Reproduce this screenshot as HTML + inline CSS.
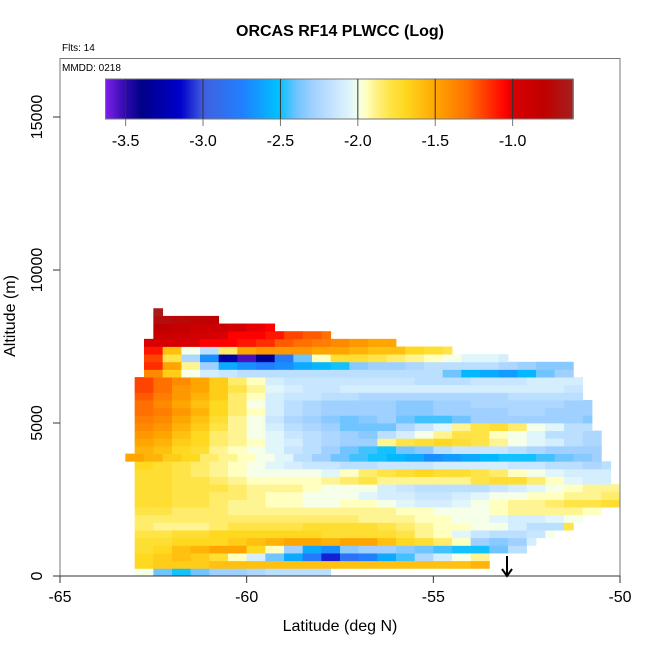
<!DOCTYPE html>
<html><head><meta charset="utf-8"><style>
body{margin:0;background:#fff}
svg text{font-family:"Liberation Sans",sans-serif}
</style></head><body>
<svg id="chart" width="650" height="650" viewBox="0 0 650 650" xmlns="http://www.w3.org/2000/svg">
<rect width="650" height="650" fill="#fff"/>
<g id="cells"></g>
<g id="cbar"></g>
<rect x="60" y="58.5" width="560" height="517.5" fill="none" stroke="#777" stroke-width="1"/>
<g id="axes"></g>
<text x="340" y="36" text-anchor="middle" font-size="16" font-weight="bold">ORCAS RF14 PLWCC (Log)</text>
<text x="62" y="51" font-size="10">Flts: 14</text>
<text x="62" y="71" font-size="10">MMDD: 0218</text>
<text x="340" y="631" text-anchor="middle" font-size="16">Latitude (deg N)</text>
<text x="0" y="0" transform="translate(15,316) rotate(-90)" text-anchor="middle" font-size="16">Altitude (m)</text>
<g stroke="#000" stroke-width="2" fill="none">
<line x1="507" y1="556" x2="507" y2="576"/><polyline points="502,569 507,576 512,569"/></g>
</svg>
<script>
const xTicks=[-65,-60,-55,-50];
const yTicks=[0,5000,10000,15000];
const cbTicks=[-3.5,-3.0,-2.5,-2.0,-1.5,-1.0];
const cbRange=[-3.63,-0.61];
const binHeight=250;
const binWidth=0.5;
const rowStart=[-63,-63,-63,-63,-63,-63,-63,-63,-63,-63,-63,-63,-63,-63,-63,-63.25,-63,-63,-63,-63,-63,-63,-63,-63,-63,-63,-62.75,-62.75,-62.75,-62.75,-62.75,-62.5,-62.5,-62.5,-62.5];
const rowEnd=[-57.75,-53.5,-53.5,-52.5,-52.25,-51.75,-51.25,-51,-50.5,-50,-50,-50,-50.25,-50.25,-50.25,-50.5,-50.5,-50.5,-50.5,-50.75,-50.75,-50.75,-50.75,-51,-51,-51,-51.25,-51.25,-53,-54.5,-56,-57.75,-59.25,-60.75,-62.25];
const rowVals=[
[-2.0,-2.4,-2.5,-2.4,-2.3,-2.3,-2.25,-2.2,-2.2,-2.2,-2.2],
[-1.7,-1.65,-1.65,-1.65,-1.6,-1.6,-1.6,-1.6,-1.6,-1.6,-1.6,-1.6,-1.6,-1.6,-1.6,-1.6,-1.6,-1.6,-1.55],
[-1.7,-1.65,-1.6,-1.65,-1.75,-1.95,-2.1,-2.4,-2.6,-2.8,-3.1,-2.85,-2.75,-2.6,-2.45,-2.25,-2.1,-2.0,-1.9],
[-1.75,-1.7,-1.6,-1.55,-1.5,-1.5,-1.7,-1.95,-2.3,-2.6,-2.7,-2.35,-2.3,-2.3,-2.35,-2.4,-2.45,-2.5,-2.5,-2.4,-2.2],
[-1.75,-1.75,-1.7,-1.7,-1.7,-1.65,-1.6,-1.55,-1.5,-1.5,-1.55,-1.5,-1.5,-1.6,-1.7,-1.75,-1.85,-1.95,-2.3,-2.35,-2.3,-2.1],
[-1.8,-1.8,-1.75,-1.75,-1.7,-1.7,-1.7,-1.7,-1.7,-1.7,-1.75,-1.75,-1.75,-1.75,-1.8,-1.9,-1.95,-2.05,-2.15,-2.2,-2.2,-2.15,-2.0],
[-1.85,-1.9,-1.9,-1.9,-1.85,-1.8,-1.8,-1.8,-1.8,-1.75,-1.75,-1.75,-1.75,-1.8,-1.85,-1.9,-1.95,-1.95,-2.0,-2.0,-2.1,-2.2,-2.2,-1.8],
[-1.85,-1.85,-1.85,-1.85,-1.85,-1.85,-1.85,-1.85,-1.85,-1.85,-1.85,-1.85,-1.9,-1.9,-1.9,-1.95,-1.95,-2.0,-2.0,-2.05,-2.1,-2.1,-2.05,-2.0],
[-1.8,-1.8,-1.85,-1.85,-1.85,-1.9,-1.9,-1.9,-1.9,-1.9,-1.9,-1.9,-1.9,-1.9,-1.95,-1.95,-2.0,-2.0,-2.0,-1.95,-1.9,-1.9,-1.9,-1.9,-1.95],
[-1.75,-1.75,-1.8,-1.8,-1.85,-1.9,-1.9,-1.95,-1.95,-2.0,-2.0,-1.95,-1.95,-2.0,-2.05,-2.1,-2.1,-2.05,-2.0,-1.95,-1.9,-1.9,-1.85,-1.8,-1.8,-1.75],
[-1.75,-1.75,-1.8,-1.8,-1.85,-1.85,-1.9,-1.95,-1.95,-2.0,-2.0,-2.0,-2.05,-2.1,-2.1,-2.15,-2.15,-2.1,-2.05,-2.0,-2.0,-1.95,-1.95,-1.9,-1.9,-1.85],
[-1.75,-1.75,-1.8,-1.8,-1.8,-1.85,-1.9,-1.9,-1.9,-1.95,-2.0,-2.0,-2.0,-2.1,-2.15,-2.2,-2.2,-2.2,-2.2,-2.15,-2.1,-2.05,-2.0,-1.95,-1.9,-1.9],
[-1.75,-1.75,-1.8,-1.8,-1.85,-1.9,-1.95,-1.95,-1.95,-1.95,-1.9,-1.85,-1.8,-1.9,-1.9,-1.9,-1.9,-1.9,-1.8,-1.75,-1.75,-1.85,-1.95,-2.05,-2.1,-2.1],
[-1.75,-1.75,-1.8,-1.85,-1.9,-1.95,-2.0,-2.0,-2.0,-2.0,-2.05,-1.95,-1.85,-1.8,-1.75,-1.7,-1.75,-1.75,-1.8,-1.85,-1.95,-2.0,-2.05,-2.1,-2.1,-2.1],
[-1.7,-1.75,-1.8,-1.85,-1.9,-1.95,-2.0,-2.05,-2.1,-2.15,-2.15,-2.2,-2.2,-2.15,-2.15,-2.15,-2.1,-2.1,-2.1,-2.1,-2.15,-2.15,-2.2,-2.2,-2.25,-2.2],
[-1.5,-1.55,-1.65,-1.7,-1.85,-1.9,-1.95,-2.0,-2.05,-2.2,-2.3,-2.4,-2.45,-2.5,-2.55,-2.6,-2.7,-2.65,-2.6,-2.55,-2.5,-2.5,-2.45,-2.4,-2.35,-2.3],
[-1.55,-1.6,-1.7,-1.75,-1.9,-1.95,-2.0,-2.05,-2.15,-2.2,-2.3,-2.4,-2.45,-2.5,-2.4,-2.35,-2.2,-2.15,-2.15,-2.15,-2.2,-2.25,-2.3,-2.3,-2.3],
[-1.5,-1.55,-1.65,-1.7,-1.85,-1.9,-1.95,-2.05,-2.1,-2.2,-2.25,-2.3,-2.3,-1.9,-1.8,-1.75,-1.7,-1.75,-1.8,-1.9,-2.0,-2.05,-2.1,-2.2,-2.25],
[-1.45,-1.5,-1.6,-1.7,-1.85,-1.9,-2.0,-2.05,-2.15,-2.2,-2.25,-2.3,-2.35,-2.2,-2.1,-2.0,-1.9,-1.8,-1.8,-1.95,-2.0,-2.05,-2.2,-2.2,-2.25],
[-1.4,-1.45,-1.55,-1.65,-1.8,-1.9,-2.0,-2.1,-2.2,-2.25,-2.3,-2.4,-2.4,-2.4,-2.25,-2.15,-2.05,-1.9,-1.8,-1.75,-1.85,-2.0,-2.05,-2.2,-2.2],
[-1.35,-1.4,-1.5,-1.6,-1.75,-1.9,-2.0,-2.15,-2.25,-2.3,-2.35,-2.4,-2.35,-2.3,-2.4,-2.45,-2.45,-2.4,-2.3,-2.3,-2.3,-2.3,-2.3,-2.3,-2.35],
[-1.3,-1.35,-1.45,-1.55,-1.7,-1.85,-1.95,-2.1,-2.2,-2.25,-2.3,-2.3,-2.3,-2.3,-2.35,-2.35,-2.3,-2.3,-2.3,-2.3,-2.25,-2.25,-2.3,-2.3,-2.3],
[-1.3,-1.4,-1.5,-1.6,-1.7,-1.85,-2.0,-2.1,-2.2,-2.25,-2.3,-2.3,-2.3,-2.3,-2.35,-2.35,-2.3,-2.3,-2.25,-2.25,-2.25,-2.25,-2.25,-2.3,-2.3],
[-1.25,-1.35,-1.45,-1.55,-1.65,-1.85,-1.95,-2.1,-2.15,-2.15,-2.2,-2.2,-2.25,-2.25,-2.25,-2.25,-2.25,-2.25,-2.25,-2.25,-2.2,-2.2,-2.2,-2.2],
[-1.2,-1.3,-1.45,-1.5,-1.65,-1.8,-1.9,-2.05,-2.1,-2.15,-2.15,-2.1,-2.1,-2.1,-2.1,-2.1,-2.1,-2.1,-2.1,-2.1,-2.1,-2.1,-2.1,-2.15],
[-1.2,-1.3,-1.4,-1.5,-1.65,-1.85,-1.95,-2.1,-2.15,-2.15,-2.15,-2.15,-2.15,-2.15,-2.15,-2.2,-2.2,-2.2,-2.15,-2.15,-2.15,-2.1,-2.1,-2.1],
[-1.4,-1.65,-2.0,-2.1,-2.15,-2.2,-2.2,-2.2,-2.2,-2.2,-2.2,-2.2,-2.2,-2.2,-2.2,-2.2,-2.4,-2.55,-2.6,-2.65,-2.55,-2.4,-2.3],
[-1.15,-1.5,-1.9,-2.3,-2.6,-2.7,-2.75,-2.7,-2.6,-2.55,-2.5,-2.35,-2.3,-2.3,-2.25,-2.2,-2.2,-2.2,-2.2,-2.25,-2.3,-2.35,-2.35],
[-1.2,-1.8,-2.25,-2.7,-3.3,-3.55,-3.35,-2.8,-2.4,-1.95,-1.75,-1.75,-1.8,-1.85,-1.9,-1.95,-2.0,-2.05,-2.05,-2.1],
[-1.1,-1.6,-2.0,-2.2,-1.85,-1.5,-1.45,-1.45,-1.45,-1.5,-1.5,-1.55,-1.6,-1.6,-1.7,-1.75,-1.8],
[-1.0,-0.98,-1.0,-1.05,-1.05,-1.1,-1.15,-1.25,-1.3,-1.35,-1.4,-1.45,-1.5,-1.5],
[-0.88,-0.9,-0.95,-1.0,-1.05,-1.05,-1.1,-1.2,-1.25,-1.3],
[-0.8,-0.85,-0.88,-0.9,-0.95,-1.02,-1.05],
[-0.72,-0.75,-0.78,-0.8],
[-0.65]
];
const stops=[[-3.63,'#7b1fe8'],[-3.5,'#2a0aa8'],[-3.4,'#000088'],[-3.15,'#0000cc'],[-3.0,'#4060e0'],[-2.75,'#2080ff'],[-2.52,'#00c0ff'],[-2.4,'#70c4ff'],[-2.3,'#a0d0ff'],[-2.15,'#c8e6ff'],[-2.05,'#e0f6fa'],[-2.0,'#f6ffe8'],[-1.95,'#ffffc0'],[-1.88,'#fff080'],[-1.8,'#ffe448'],[-1.7,'#ffd820'],[-1.6,'#ffc010'],[-1.5,'#ffa500'],[-1.3,'#ff7000'],[-1.05,'#ff0000'],[-1.0,'#d80000'],[-0.8,'#c00000'],[-0.61,'#a52020']];
function hex(c){return [1,3,5].map(i=>parseInt(c.substr(i,2),16));}
function color(v){
  if(v<=stops[0][0])return stops[0][1];
  for(let i=1;i<stops.length;i++){
    if(v<=stops[i][0]){const a=hex(stops[i-1][1]),b=hex(stops[i][1]);const t=(v-stops[i-1][0])/(stops[i][0]-stops[i-1][0]);
      return 'rgb('+a.map((x,j)=>Math.round(x+(b[j]-x)*t)).join(',')+')';}
  }
  return stops[stops.length-1][1];
}
const X=lat=>60+(lat+65)*560/15;
const Y=alt=>576-alt*459/15000;
const CB=v=>105.5+(v-cbRange[0])*(573-105.5)/(cbRange[1]-cbRange[0]);
const NS='http://www.w3.org/2000/svg';
function mk(tag,attrs,parent){const e=document.createElementNS(NS,tag);for(const k in attrs)e.setAttribute(k,attrs[k]);parent.appendChild(e);return e;}
const cells=document.getElementById('cells');
rowVals.forEach((vals,k)=>{
  vals.forEach((v,i)=>{
    const l0=rowStart[k]+i*binWidth;const l1=Math.min(l0+binWidth,rowEnd[k]);
    if(l1<=l0)return;
    const r=mk('rect',{x:X(l0),y:Y((k+1)*binHeight),width:X(l1)-X(l0)+0.4,height:Y(k*binHeight)-Y((k+1)*binHeight)+0.4,fill:color(v)},cells);
    
    
  });
});
const cb=document.getElementById('cbar');
for(let x=105.5;x<573;x+=1.5){
  const v=cbRange[0]+(x-105.5)/(573-105.5)*(cbRange[1]-cbRange[0]);
  const r=mk('rect',{x:x,y:79,width:1.8,height:40,fill:color(v)},cb);
  
  
}
mk('rect',{x:105.5,y:79,width:467.5,height:40,fill:'none',stroke:'#777'},cb);
cbTicks.forEach(t=>{
  const x=CB(t);
  mk('line',{x1:x,x2:x,y1:79,y2:119,stroke:'#333'},cb);
  mk('line',{x1:x,x2:x,y1:119,y2:126,stroke:'#777'},cb);
  const tx=mk('text',{x:x,y:146,'text-anchor':'middle','font-size':16},cb);
  tx.textContent=t.toFixed(1);
  
  
});
const ax=document.getElementById('axes');
xTicks.forEach(t=>{
  const x=X(t);
  mk('line',{x1:x,x2:x,y1:576,y2:583,stroke:'#333'},ax);
  const tx=mk('text',{x:x,y:602,'text-anchor':'middle','font-size':16},ax);
  tx.textContent=t;
  
  
});
mk('line',{x1:60,x2:620,y1:576,y2:576,stroke:'#333'},ax);
yTicks.forEach(t=>{
  const y=Y(t);
  mk('line',{x1:53,x2:60,y1:y,y2:y,stroke:'#333'},ax);
  const tx=mk('text',{x:0,y:0,transform:'translate(42,'+y+') rotate(-90)','text-anchor':'middle','font-size':16},ax);
  tx.textContent=t;
  
  
});
</script>
</body></html>
